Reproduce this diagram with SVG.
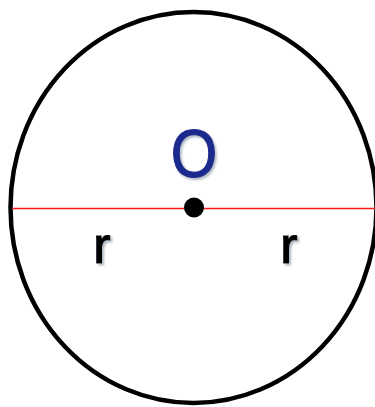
<svg xmlns="http://www.w3.org/2000/svg" width="375" height="407" viewBox="0 0 375 407">
<defs>
<filter id="sh" x="-30%" y="-30%" width="160%" height="160%">
<feDropShadow dx="2" dy="2" stdDeviation="1.2" flood-color="#7a8a9a" flood-opacity="0.6"/>
</filter>
</defs>
<style>
.lbl{font-family:"Liberation Sans",Arial,sans-serif;text-anchor:middle;filter:url(#sh);stroke-width:1.2}
</style>
<rect width="375" height="407" fill="#fff"/>
<g id="circle">
<ellipse cx="193.5" cy="207.5" rx="183" ry="195.5" fill="none" stroke="#000" stroke-width="4.5"/>
</g>
<g id="connectors">
<line x1="12" y1="208.5" x2="375" y2="208.5" stroke="#ff1a1a" stroke-width="1.6"/>
</g>
<g id="center">
<circle cx="194" cy="207.5" r="10" fill="#000"/>
<text class="lbl" x="0" y="177" font-size="68" fill="#1c2b8e" stroke="#1c2b8e" transform="translate(194 0) scale(0.88 1)">O</text>
</g>
<g id="r-left">
<text class="lbl" x="102" y="263" font-size="52" fill="#000" stroke="#000">r</text>
</g>
<g id="r-right">
<text class="lbl" x="289" y="263" font-size="52" fill="#000" stroke="#000">r</text>
</g>
</svg>
